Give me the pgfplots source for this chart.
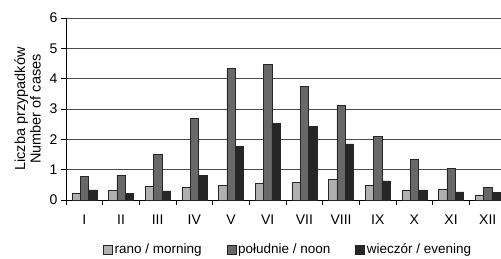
\documentclass[border=0pt]{standalone}
\usepackage{pgfplots}
\pgfplotsset{compat=1.18}
\usepackage{fontspec}
\setmainfont{Liberation Sans}
\definecolor{cmorn}{HTML}{B0B0B0}
\definecolor{cnoon}{HTML}{686868}
\definecolor{ceve}{HTML}{262626}
\newcommand{\fs}{\fontsize{13.5}{15.5}\selectfont}
\newcommand{\ft}{\fontsize{14}{16}\selectfont}
\newcommand{\fl}{\fontsize{14.5}{15.5}\selectfont}
\begin{document}
\begin{tikzpicture}
\begin{axis}[
  at={(0,0)}, anchor=south west,
  scale only axis,
  width=435.5pt, height=182pt,
  xmin=0.5, xmax=12.375,
  ymin=0, ymax=6,
  ybar=0pt, bar width=8.3pt,
  axis x line*=bottom, axis y line*=left,
  axis line style={-, black, line width=0.6pt},
  xtick={1,...,12},
  xticklabels={I,II,III,IV,V,VI,VII,VIII,IX,X,XI,XII},
  minor xtick={0.5,1.5,...,11.5},
  major x tick style={draw=none},
  minor x tick style={black, line width=0.6pt},
  xtick align=outside,
  ytick={0,...,6},
  ytick align=outside,
  y tick style={black, line width=0.6pt},
  major tick length=5pt, minor tick length=5pt,
  ymajorgrids,
  grid style={black!70, line width=0.6pt},
  tick label style={font=\ft},
  xticklabel style={yshift=-6.5pt},
  /pgf/number format/assume math mode=true,
  ylabel={Liczba przypadków\\Number of cases},
  ylabel style={align=center, font=\fl, at={(-0.088,0.5)}, anchor=center},
  legend columns=3,
  legend style={draw=none, at={(0.51,-0.272)}, anchor=center,
    nodes={font=\fs},
    /tikz/every even column/.append style={column sep=23pt}},
  legend image code/.code={\draw[#1] (0pt,-4.5pt) rectangle (9pt,4.5pt);},
  every axis plot/.append style={draw=black!85, line width=0.5pt},
]
\addplot[fill=cmorn] coordinates {(1,0.22) (2,0.31) (3,0.44) (4,0.42) (5,0.48) (6,0.55) (7,0.58) (8,0.69) (9,0.47) (10,0.32) (11,0.36) (12,0.16)};
\addplot[fill=cnoon] coordinates {(1,0.77) (2,0.82) (3,1.51) (4,2.68) (5,4.33) (6,4.46) (7,3.75) (8,3.11) (9,2.09) (10,1.33) (11,1.05) (12,0.42)};
\addplot[fill=ceve] coordinates {(1,0.33) (2,0.22) (3,0.30) (4,0.80) (5,1.77) (6,2.52) (7,2.42) (8,1.85) (9,0.63) (10,0.33) (11,0.27) (12,0.25)};
\legend{rano / morning, południe / noon, wieczór / evening}
\end{axis}
\pgfresetboundingbox
\useasboundingbox (-66pt,-58pt) rectangle (435pt,200pt);
\end{tikzpicture}
\end{document}
